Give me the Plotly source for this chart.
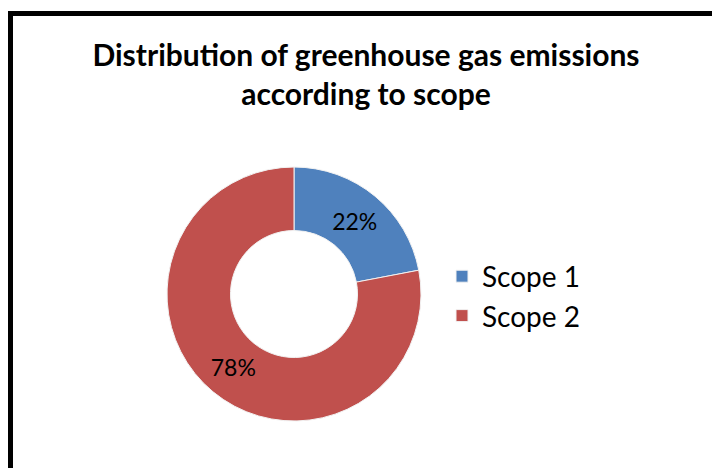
import plotly.graph_objects as go

# Share of greenhouse gas emissions by scope
scopes = ["Scope 1", "Scope 2"]
shares = [22, 78]
colors = ["#4F81BD", "#C0504D"]

W, H = 712, 468
FONT = "Lato, Open Sans, sans-serif"

fig = go.Figure(
    go.Pie(
        labels=scopes,
        values=shares,
        hole=0.5,
        sort=False,
        direction="clockwise",
        rotation=0,
        marker=dict(colors=colors, line=dict(color="#f2f2f2", width=1)),
        textinfo="percent",
        texttemplate="%{percent:.0%}",
        textposition="inside",
        insidetextorientation="horizontal",
        textfont=dict(family=FONT, size=23, color="#000000"),
        domain=dict(x=[167 / W, 421 / W], y=[1 - 421 / H, 1 - 167 / H]),
        showlegend=True,
    )
)

fig.update_layout(
    width=W,
    height=H,
    margin=dict(l=0, r=0, t=0, b=0),
    paper_bgcolor="white",
    plot_bgcolor="white",
    title=dict(
        text="<b>Distribution of greenhouse gas emissions<br>according to scope</b>",
        x=366 / W,
        xanchor="center",
        y=1 - 66 / H,
        yanchor="top",
        font=dict(family=FONT, size=30, color="#000000"),
    ),
    legend=dict(
        x=442 / W,
        xanchor="left",
        y=1 - 296 / H,
        yanchor="middle",
        font=dict(family=FONT, size=28, color="#000000"),
        itemwidth=30,
    ),
    shapes=[
        dict(
            type="rect",
            xref="paper",
            yref="paper",
            x0=10.5 / W,
            x1=1.05,
            y0=-0.05,
            y1=1 - 13.5 / H,
            line=dict(color="black", width=5),
            fillcolor="rgba(0,0,0,0)",
        )
    ],
)

fig.write_html("out.html")
